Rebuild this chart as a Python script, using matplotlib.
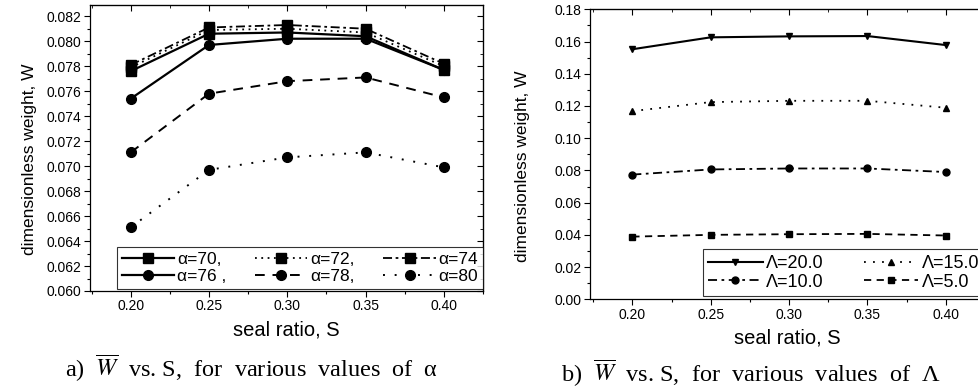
import matplotlib
matplotlib.use("Agg")
import matplotlib.pyplot as plt
from matplotlib.ticker import MultipleLocator, FormatStrFormatter

plt.rcParams['font.family'] = ['Liberation Sans', 'DejaVu Sans']
plt.rcParams['mathtext.fontset'] = 'stix'

# ---- data ----
S = [0.20, 0.25, 0.30, 0.35, 0.40]

alpha_labels = ["α=70,", "α=72,", "α=74", "α=76 ,", "α=78,", "α=80"]
W_a70 = [0.0776, 0.0806, 0.0807, 0.0804, 0.0777]
W_a72 = [0.0779, 0.0809, 0.0810, 0.0807, 0.0780]
W_a74 = [0.0781, 0.0811, 0.0813, 0.0810, 0.0782]
W_a76 = [0.0754, 0.0797, 0.0802, 0.0802, 0.0777]
W_a78 = [0.0711, 0.0758, 0.0768, 0.0771, 0.0755]
W_a80 = [0.0651, 0.0697, 0.0707, 0.0711, 0.0699]

lam_labels = ["Λ=20.0", "Λ=15.0", "Λ=10.0", "Λ=5.0"]
W_L20 = [0.1552, 0.1626, 0.1632, 0.1634, 0.1578]
W_L15 = [0.1168, 0.1224, 0.1232, 0.1232, 0.1189]
W_L10 = [0.0774, 0.0806, 0.0812, 0.0812, 0.0790]
W_L5 = [0.0389, 0.0400, 0.0404, 0.0406, 0.0396]

x_ticks = [0.20, 0.25, 0.30, 0.35, 0.40]

fig = plt.figure(figsize=(9.79, 3.90), dpi=100)

def style_axes(ax, xlim, ylim, ymajor, yminor, yfmt):
    ax.set_xlim(*xlim)
    ax.set_ylim(*ylim)
    ax.set_xticks(x_ticks)
    ax.xaxis.set_major_formatter(FormatStrFormatter('%.2f'))
    ax.xaxis.set_minor_locator(MultipleLocator(0.025))
    ax.yaxis.set_major_locator(MultipleLocator(ymajor))
    ax.yaxis.set_minor_locator(MultipleLocator(yminor))
    ax.yaxis.set_major_formatter(FormatStrFormatter(yfmt))
    ax.tick_params(which='major', direction='out', length=4, width=0.8, labelsize=10,
                   top=False, right=False, pad=2)
    ax.tick_params(which='minor', direction='out', length=2.5, width=0.8,
                   top=False, right=False)
    for sp in ax.spines.values():
        sp.set_linewidth(0.9)
    # mirrored inward ticks on top / right
    tx = ax.secondary_xaxis('top')
    tx.set_xticks(x_ticks)
    tx.xaxis.set_minor_locator(MultipleLocator(0.025))
    tx.tick_params(which='major', direction='in', length=4, labeltop=False)
    tx.tick_params(which='minor', direction='in', length=2.5)
    tx.set_xticklabels([])
    ty = ax.secondary_yaxis('right')
    ty.yaxis.set_major_locator(MultipleLocator(ymajor))
    ty.yaxis.set_minor_locator(MultipleLocator(yminor))
    ty.tick_params(which='major', direction='in', length=4, labelright=False)
    ty.tick_params(which='minor', direction='in', length=2.5)
    ty.set_yticklabels([])

# ---- panel a ----
ax1 = fig.add_axes([90/979, (390-291)/390, 393/979, 286/390])
ms = 7
h70, = ax1.plot(S, W_a70, '-', color='k', lw=1.6, marker='s', ms=ms)
h72, = ax1.plot(S, W_a72, color='k', lw=1.3, ls=(0, (1, 2.5)), marker='s', ms=ms)
h74, = ax1.plot(S, W_a74, color='k', lw=1.3, ls=(0, (5, 2, 1.5, 2)), marker='s', ms=ms)
h76, = ax1.plot(S, W_a76, '-', color='k', lw=1.6, marker='o', ms=ms)
h78, = ax1.plot(S, W_a78, color='k', lw=1.4, ls=(0, (5, 4)), marker='o', ms=ms)
h80, = ax1.plot(S, W_a80, color='k', lw=1.4, ls=(0, (1, 5)), marker='o', ms=ms)
style_axes(ax1, (0.174, 0.425), (0.060, 0.0829), 0.002, 0.001, '%.3f')
ax1.set_xlabel("seal ratio, S", fontsize=14.5, labelpad=5)
ax1.set_ylabel("dimensionless weight, W", fontsize=12.5)
ax1.yaxis.set_label_coords(-0.135, 0.46)
handles = [h70, h76, h72, h78, h74, h80]
labels = [alpha_labels[0], alpha_labels[3], alpha_labels[1], alpha_labels[4],
          alpha_labels[2], alpha_labels[5]]
leg1 = ax1.legend(handles, labels, ncol=3, loc='lower left',
                  bbox_to_anchor=(0.069, 0.007, 0.931, 0.183), mode='expand',
                  fontsize=12.5, frameon=True, fancybox=False, edgecolor='k',
                  handlelength=3.0, handletextpad=0.15, columnspacing=0.2,
                  borderpad=0.3, labelspacing=0.1, borderaxespad=0)
leg1.get_frame().set_linewidth(0.8)

# ---- panel b ----
ax2 = fig.add_axes([590/979, (390-299.3)/390, 395/979, 290/390])
ms2 = 5
g20, = ax2.plot(S, W_L20, '-', color='k', lw=1.5, marker='v', ms=ms2)
g15, = ax2.plot(S, W_L15, color='k', lw=1.3, ls=(0, (1, 4)), marker='^', ms=ms2)
g10, = ax2.plot(S, W_L10, color='k', lw=1.3, ls=(0, (5, 2.5, 1.5, 2.5)), marker='o', ms=ms2)
g5, = ax2.plot(S, W_L5, color='k', lw=1.3, ls=(0, (4, 3)), marker='s', ms=ms2)
style_axes(ax2, (0.173, 0.425), (0.0, 0.18), 0.02, 0.01, '%.2f')
ax2.set_xlabel("seal ratio, S", fontsize=14.5, labelpad=5)
ax2.set_ylabel("dimensionless weight, W", fontsize=12.5)
ax2.yaxis.set_label_coords(-0.152, 0.46)
leg2 = ax2.legend([g20, g10, g15, g5],
                  [lam_labels[0], lam_labels[2], lam_labels[1], lam_labels[3]],
                  ncol=2, loc='lower left',
                  bbox_to_anchor=(0.286, 0.011, 0.714, 0.187), mode='expand',
                  fontsize=13, frameon=True, fancybox=False, edgecolor='k',
                  handlelength=3.0, handletextpad=0.2, columnspacing=0.3,
                  borderpad=0.3, labelspacing=0.1, borderaxespad=0)
leg2.get_frame().set_linewidth(0.8)

# ---- captions ----
fig.text(252/979, (390-368)/390, r"a)  $\overline{W}$  vs. S,  for  various  values  of  α",
         family=['Liberation Serif', 'DejaVu Serif'], fontsize=17.5, ha='center', va='center')
fig.text(751/979, (390-373)/390, r"b)  $\overline{W}$  vs. S,  for  various  values  of  Λ",
         family=['Liberation Serif', 'DejaVu Serif'], fontsize=17.5, ha='center', va='center')

fig.savefig("out.png", dpi=100)
